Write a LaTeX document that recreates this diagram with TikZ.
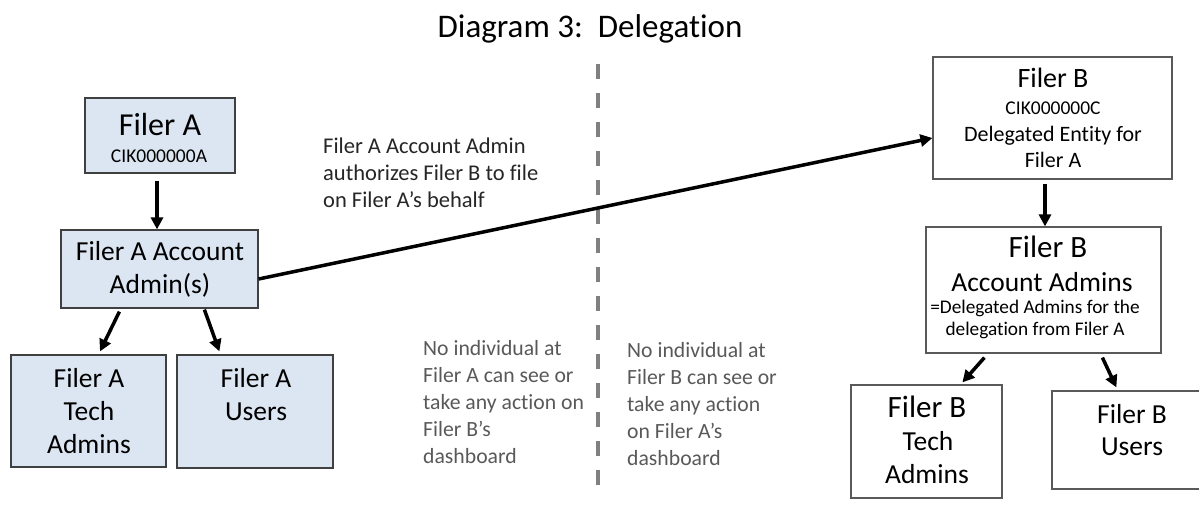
\documentclass[tikz,border=0pt]{standalone}
\usepackage{fontspec}
\setmainfont{Carlito}[Ligatures=NoCommon]
\usetikzlibrary{arrows.meta,calc}
\definecolor{boxfill}{HTML}{DCE6F2}
\definecolor{boxline}{HTML}{404040}
\definecolor{boxlineB}{HTML}{595959}
\definecolor{notegray}{HTML}{595959}
\definecolor{dashgray}{HTML}{808080}
\definecolor{labelblack}{HTML}{262626}
\newcommand\myfs[1]{\fontsize{#1}{#1}\selectfont}
\begin{document}
\begin{tikzpicture}[x=1pt,y=-1pt,
  boxa/.style={draw=boxline, fill=boxfill, line width=1.2pt, inner sep=0pt},
  boxb/.style={draw=boxlineB, fill=white, line width=1.2pt, inner sep=0pt},
  txt/.style={anchor=base, inner sep=0pt, text=black},
  note/.style={anchor=base west, inner sep=0pt, text=notegray, font=\myfs{21.7}},
  lab/.style={anchor=base west, inner sep=0pt, text=labelblack, font=\myfs{22.5}},
  arr/.style={line width=3.5pt, -{Triangle[length=12pt,width=12pt]}},
  dashline/.style={draw=dashgray, line width=4pt, dash pattern=on 15pt off 14pt}]
\useasboundingbox (0,0) rectangle (1199,504);
\clip (0,0) rectangle (1199,504);
\fill[white] (0,0) rectangle (1199,504);

% title
\node[txt, font=\myfs{33}] (title) at (590,37) {Diagram 3:\ \ Delegation};

% dashed separator
\coordinate (dtop) at (598,64);
\coordinate (dbot) at (598,497);
\draw[dashline] (dtop) -- (dbot);

% Filer A side boxes
\node[boxa, minimum width=150pt, minimum height=75pt] (filerA) at (160,135.5) {};
\node[boxa, minimum width=197pt, minimum height=78pt] (acctA) at (159.5,269) {};
\node[boxa, minimum width=155pt, minimum height=112pt] (techA) at (88.5,411) {};
\node[boxa, minimum width=156pt, minimum height=113pt] (usersA) at (255,411.5) {};

% Filer B side boxes
\node[boxb, minimum width=239pt, minimum height=122pt] (filerB) at (1052.5,118) {};
\node[boxb, minimum width=235pt, minimum height=126pt] (acctB) at (1043.5,290) {};
\node[boxb, minimum width=151pt, minimum height=113pt] (techB) at (926.5,441.5) {};
\node[boxb, minimum width=162pt, minimum height=98pt] (usersB) at (1133,440) {};

% texts Filer A
\node[txt, font=\myfs{32}] (tA1) at (160,135) {Filer A};
\node[txt, font=\myfs{19.5}] (tA2) at (159,162) {CIK000000A};
\node[txt, font=\myfs{27.5}] (tA3) at (160,260) {Filer A Account};
\node[txt, font=\myfs{27.5}] (tA4) at (160,293) {Admin(s)};
\node[txt, font=\myfs{27.5}] (tA5) at (89,387) {Filer A};
\node[txt, font=\myfs{27.5}] (tA6) at (89,420) {Tech};
\node[txt, font=\myfs{27.5}] (tA7) at (89,453) {Admins};
\node[txt, font=\myfs{27.5}] (tA8) at (256,387) {Filer A};
\node[txt, font=\myfs{27.5}] (tA9) at (256,420) {Users};

% texts Filer B
\node[txt, font=\myfs{28}] (tB1) at (1053,87) {Filer B};
\node[txt, font=\myfs{19.5}] (tB2) at (1053,114) {CIK000000C};
\node[txt, font=\myfs{22}] (tB3) at (1053,141) {Delegated Entity for};
\node[txt, font=\myfs{22}] (tB4) at (1053,167) {Filer A};
\node[txt, font=\myfs{31}] (tB5) at (1048,257) {Filer B};
\node[txt, font=\myfs{27.5}] (tB6) at (1042,291) {Account Admins};
\node[txt, font=\myfs{19.3}] (tB7) at (1035,313) {=Delegated Admins for the};
\node[txt, font=\myfs{19.3}] (tB8) at (1035,335) {delegation from Filer A};
\node[txt, font=\myfs{31}] (tB9) at (927,417) {Filer B};
\node[txt, font=\myfs{27.5}] (tB10) at (928,450) {Tech};
\node[txt, font=\myfs{27.5}] (tB11) at (927,483) {Admins};
\node[txt, font=\myfs{27.5}] (tB12) at (1132,423) {Filer B};
\node[txt, font=\myfs{27.5}] (tB13) at (1132,455) {Users};

% arrow label
\node[lab] (l1) at (323,153) {Filer A Account Admin};
\node[lab] (l2) at (323,180) {authorizes Filer B to file};
\node[lab] (l3) at (323,207) {on Filer A’s behalf};

% notes
\node[note] (n1) at (423,355) {No individual at};
\node[note] (n2) at (423,382) {Filer A can see or};
\node[note] (n3) at (423,409) {take any action on};
\node[note] (n4) at (423,436) {Filer B’s};
\node[note] (n5) at (423,463) {dashboard};
\node[note] (m1) at (627,357) {No individual at};
\node[note] (m2) at (627,384) {Filer B can see or};
\node[note] (m3) at (627,411) {take any action};
\node[note] (m4) at (627,438) {on Filer A’s};
\node[note] (m5) at (627,465) {dashboard};

% connectors
\draw[arr, shorten <=7pt] (filerA.south -| 157,0) -- (acctA.north -| 157,0);
\draw[arr] ($(acctA.south west)+(59,3)$) -- ($(techA.north)+(11.5,-3)$);
\draw[arr] ($(acctA.south west)+(144,1)$) -- ($(usersA.north west)+(43,-3)$);
\draw[arr] ($(acctA.east)+(0,10)$) -- ($(filerB.west)+(0,20)$);
\draw[arr, shorten <=4pt] (filerB.south -| 1045,0) -- (acctB.north -| 1045,0);
\draw[arr] ($(acctB.south west)+(59,4)$) -- ($(techB.north west)+(112,-2)$);
\draw[arr] ($(acctB.south west)+(177,4)$) -- ($(usersB.north west)+(65,-3)$);
\end{tikzpicture}
\end{document}
